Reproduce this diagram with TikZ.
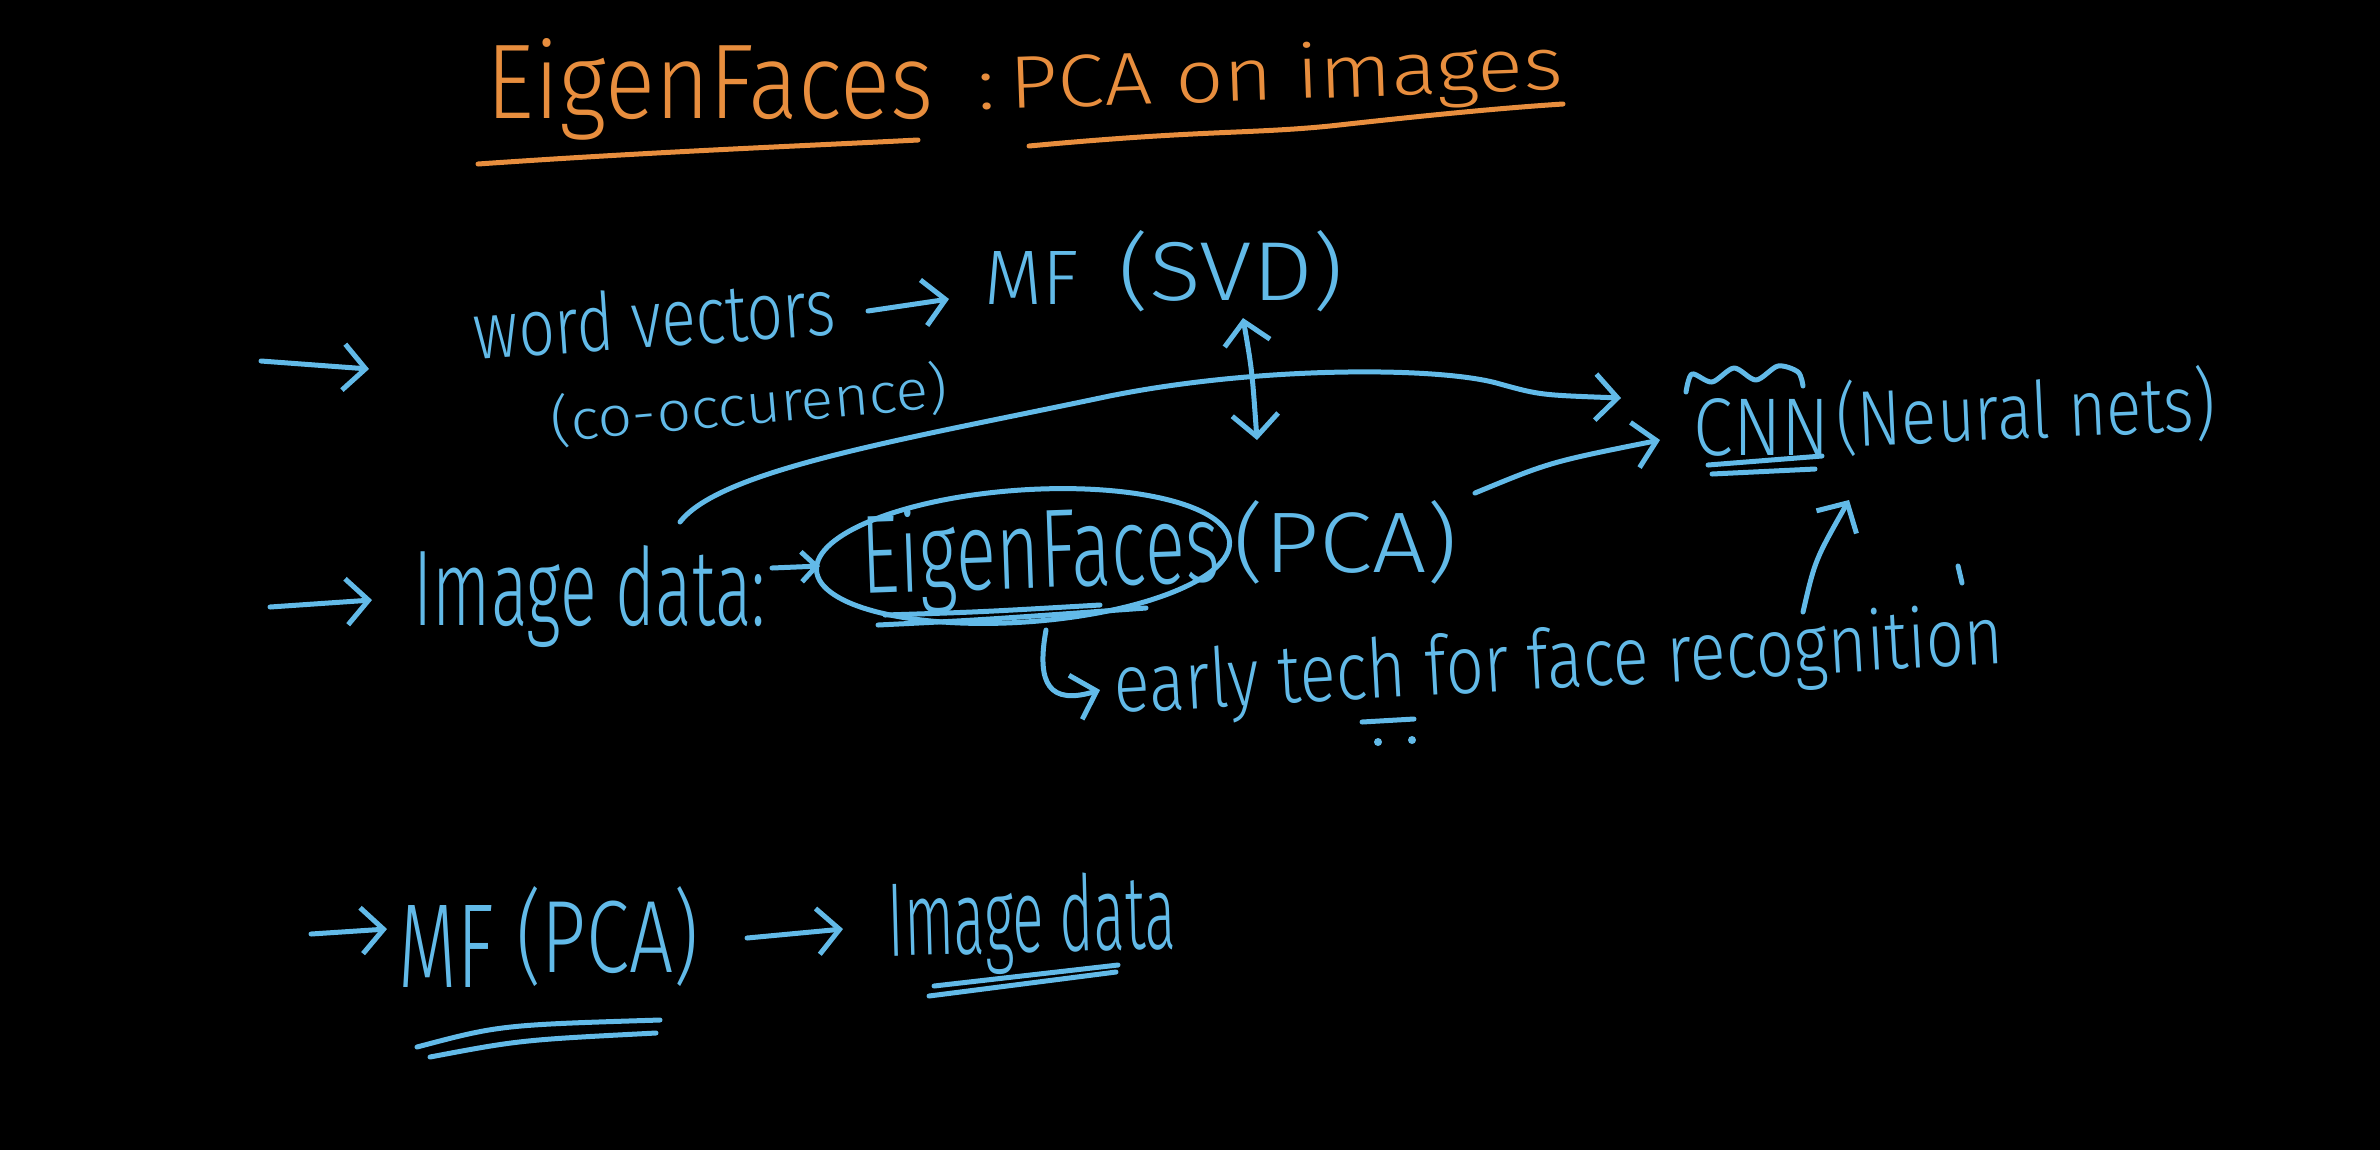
\documentclass[tikz,border=0pt]{standalone}
\usepackage{fontspec}
\newfontfamily\hand{Fira Sans Light}
\usetikzlibrary{arrows.meta}
\newdimen\pxu \pxu=0.1mm
\newcommand\hw[3]{\resizebox{#1\pxu}{#2\pxu}{#3}}
\definecolor{cb}{RGB}{98,186,232}
\definecolor{co}{RGB}{232,142,62}
\tikzset{
  pen/.style={draw=cb, line width=0.5mm, line cap=round, line join=round},
  open/.style={pen, draw=co},
  tip/.style={-{Straight Barb[length=2.2mm,width=4.6mm]}},
  tips/.style={{Straight Barb[length=2.2mm,width=4.6mm]}-{Straight Barb[length=2.2mm,width=4.6mm]}},
  txt/.style={text=cb, inner sep=0pt, anchor=base west, font=\hand},
  otxt/.style={txt, text=co}
}
\begin{document}
\begin{tikzpicture}[x=0.1mm,y=-0.1mm]
\fill[black] (0,0) rectangle (2380,1150);
\useasboundingbox (0,0) rectangle (2380,1150);

% title
\node[otxt] (t1) at (486,118) {\hw{447}{80}{EigenFaces}};
\node[otxt, rotate=2] (t2) at (978,110) {\hw{585}{56}{:\,PCA on images}};
\coordinate (u1a) at (478,164); \coordinate (u1b) at (918,140);
\coordinate (u2a) at (1029,146); \coordinate (u2b) at (1563,104);
\draw[open] (u1a) .. controls (650,152) and (800,146) .. (u1b);
\draw[open] (u2a) .. controls (1200,130) and (1250,134) .. (1330,126) .. controls (1420,116) and (1500,108) .. (u2b);

% row 1
\coordinate (a1s) at (261,361); \coordinate (a1e) at (369,369);
\draw[pen,tip] (a1s) -- (a1e);
\node[txt, rotate=4] (wv) at (475,360) {\hw{362}{60}{word vectors}};
\node[txt, rotate=5] (cooc) at (552,442) {\hw{398}{47}{(co-occurence)}};
\coordinate (a2s) at (868,311); \coordinate (a2e) at (949,299);
\draw[pen,tip] (a2s) -- (a2e);
\node[txt] (mf1) at (984,304) {\hw{94}{53}{MF}};
\node[txt] (svd) at (1118,300) {\hw{225}{70}{(SVD)}};
\coordinate (d1) at (1243,318); \coordinate (d2) at (1257,440);
\draw[pen,tips] (d1) .. controls (1252,370) .. (d2);

% row 2
\coordinate (a3s) at (270,607); \coordinate (a3e) at (372,600);
\draw[pen,tip] (a3s) -- (a3e);
\node[txt] (img) at (413,625) {\hw{352}{80}{Image data:}};
\coordinate (a4s) at (772,568); \coordinate (a4e) at (820,566);
\draw[pen,-{Straight Barb[length=1.5mm,width=3mm]}] (a4s) -- (a4e);
\node[txt, rotate=2] (ef) at (862,594) {\hw{358}{84}{EigenFaces}};
\draw[pen, rotate around={4:(1023,556)}] (1023,556) ellipse [x radius=207, y radius=66];
\draw[pen] (878,625) .. controls (980,620) .. (1146,608);
\draw[pen] (885,615) .. controls (980,612) .. (1100,605);
\node[txt] (pca) at (1233,572) {\hw{224}{72}{(PCA)}};
\coordinate (a5s) at (1475,493); \coordinate (a5e) at (1660,440);
\draw[pen,tip] (a5s) .. controls (1550,462) .. (a5e);
\node[txt] (cnn) at (1693,455) {\hw{136}{57}{CNN}};
\node[txt, rotate=2.5] (nn) at (1837,447) {\hw{379}{66}{(Neural nets)}};
\draw[pen] plot[smooth] coordinates {(1686,392) (1692,374) (1712,382) (1734,368) (1756,380) (1778,366) (1798,372) (1803,386)};
\draw[pen] (1708,465) -- (1822,456);
\draw[pen] (1712,474) -- (1815,469);
% long curve
\coordinate (lcs) at (680,522); \coordinate (lce) at (1621,398);
\draw[pen,tip] (lcs) .. controls (720,470) and (900,440) .. (1100,398) .. controls (1250,366) and (1440,366) .. (1500,384) .. controls (1540,395) .. (lce);

% early tech
\coordinate (hks) at (1046,630); \coordinate (hke) at (1100,690);
\draw[pen,tip] (hks) .. controls (1036,685) and (1050,705) .. (hke);
\node[txt, rotate=3.2] (early) at (1115,713) {\hw{890}{62}{early tech for face recognition}};
\draw[pen] (1362,722) -- (1414,719);
\fill[cb] (1378,742) circle (4) (1412,740) circle (4);
\coordinate (ups) at (1803,612); \coordinate (upe) at (1849,500);
\draw[pen,tip] (ups) .. controls (1815,560) .. (upe);
\draw[pen] (1958,566) -- (1962,583);

% row 3
\coordinate (a6s) at (311,934); \coordinate (a6e) at (387,929);
\draw[pen,tip] (a6s) -- (a6e);
\node[txt] (mf2) at (398,987) {\hw{95}{82}{MF}};
\node[txt] (pca2) at (516,972) {\hw{182}{86}{(PCA)}};
\draw[pen] (417,1047) .. controls (500,1025) .. (660,1020);
\draw[pen] (430,1057) .. controls (520,1040) .. (656,1033);
\coordinate (a7s) at (747,938); \coordinate (a7e) at (843,929);
\draw[pen,tip] (a7s) -- (a7e);
\node[txt, rotate=1.5] (img2) at (888,956) {\hw{288}{78}{Image data}};
\draw[pen] (929,996) -- (1116,972);
\draw[pen] (934,986) -- (1118,965);
\end{tikzpicture}
\end{document}
